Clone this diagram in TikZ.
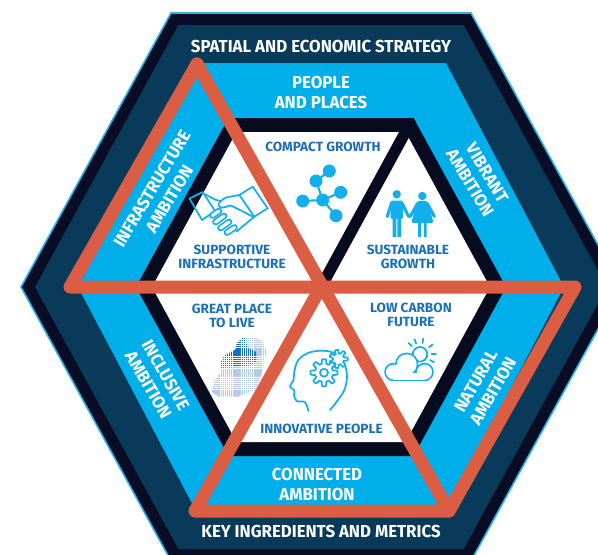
\documentclass[tikz,border=0pt]{standalone}
\usepackage{fontspec}
\newfontfamily\lab{Fira Sans}[FakeStretch=0.97]
\newfontfamily\labb{Fira Sans}[FakeStretch=1.02]
\definecolor{outl}{HTML}{2AB4E8}
\definecolor{navy}{HTML}{080C24}
\definecolor{teal}{HTML}{0A3A5A}
\definecolor{lblue}{HTML}{00AEEA}
\definecolor{blk}{HTML}{060B1F}
\definecolor{tblue}{HTML}{1C70B8}
\definecolor{icb}{HTML}{14AEEA}
\definecolor{orng}{HTML}{DB5E44}
\definecolor{mapdark}{HTML}{1A6FBE}
\definecolor{maplight}{HTML}{B3CAE8}
\tikzset{
  wlab/.style={text=white, font=\lab\bfseries\fontsize{13}{15}\selectfont, align=center, inner sep=0pt},
  blab/.style={text=tblue, font=\labb\bfseries\fontsize{10}{10.5}\selectfont, align=center, inner sep=0pt},
  iconline/.style={draw=icb, line width=1.3pt, line cap=round, line join=round},
  finger/.style={iconline, double=white, double distance=2.4pt},
  orline/.style={draw=orng, line width=9.75pt, line join=round, line cap=round},
}
\begin{document}
\begin{tikzpicture}[x=0.75pt,y=-0.75pt]
\useasboundingbox (0,0) rectangle (598,554);
\begin{scope}
\clip (0,0) rectangle (598,554);
% hexagon layers
\filldraw[fill=navy, draw=outl, line width=1.2pt] (21,287)--(171,13)--(471,13)--(621,287)--(471,561)--(171,561)--cycle;
\fill[teal] (35,287)--(178.4,25)--(463.6,25)--(607,287)--(463.6,549)--(178.4,549)--cycle;
\fill[lblue] (78,287)--(196,63)--(446,63)--(564,287)--(446,511)--(196,511)--cycle;
\fill[blk] (136,287)--(228.5,118)--(413.5,118)--(506,287)--(413.5,456)--(228.5,456)--cycle;
\fill[white] (152,287)--(236.5,132)--(405.5,132)--(490,287)--(405.5,442)--(236.5,442)--cycle;
\begin{scope}
\clip (136,287)--(228.5,118)--(413.5,118)--(506,287)--(413.5,456)--(228.5,456)--cycle;
\draw[blk, line width=8.5pt] (321,287) -- (422.4,101);
\end{scope}
\end{scope}

% network icon
\coordinate (n1) at (329.3,171);
\coordinate (n2) at (316,181);
\coordinate (n3) at (302.7,201);
\coordinate (n4) at (322.7,200);
\coordinate (n5) at (340.7,192.3);
\coordinate (n6) at (336,215.7);
\draw[icb, line width=1.6pt] (n1)--(n2)--(n4)--(n3) (n4)--(n5) (n4)--(n6);
\foreach \n in {n1,n2,n3,n4,n5,n6} \fill[icb] (\n) circle[radius=6.5];

% people icon
\fill[icb] (396.7,194.3) circle[radius=4.2];
\fill[icb, rounded corners=1.5] (390.5,200.5) rectangle (403,219);
\fill[icb] (392.5,217) rectangle (396.3,237) (397.3,217) rectangle (401,237);
\draw[icb, line width=2.3pt, line cap=round] (391.5,203)--(387.3,216.5) (402,203)--(408.6,216.5);
\fill[icb] (422.3,196) circle[radius=4.2];
\fill[icb, rounded corners=1.5] (417,200.8)--(427.6,200.8)--(433.5,223)--(411.3,223)--cycle;
\fill[icb] (418.2,222) rectangle (421,237) (423.8,222) rectangle (426.6,237);
\draw[icb, line width=2.3pt, line cap=round] (417.5,203.5)--(410.2,216.5) (427.2,203.5)--(434.4,216.5);

% handshake icon
\draw[iconline] (189.5,198.5)--(202.7,192)--(215,211)--(202,220)--cycle;
\draw[iconline] (239.3,195)--(252.7,186.7)--(267.7,208.3)--(254.3,216.7)--cycle;
\draw[iconline] (203.5,193.5) -- (216,200) -- (221,201) .. controls (224,198) and (227,197) .. (231,196.5) -- (239.3,195);
\draw[iconline] (221,201) .. controls (217,204) and (218,208) .. (223,207.5) -- (231,205.5) -- (253.5,217);
\draw[iconline] (254.3,216.7) -- (244.3,225) -- (236.5,231.5);
\draw[finger] (212.5,215.5) -- (219,211);
\draw[finger] (215.5,222) -- (224,216);
\draw[finger] (220.5,228) -- (229,222);
\draw[finger] (227,232.5) -- (234.5,227.5);

% Ireland dotted map
\begin{scope}
\clip (241.7,338.3)--(251.7,336.7)--(263.3,340)--(266.7,350)--(265,360)--(260,380)--(255,390)--(238.3,396.7)--(218.3,396.7)--(211.7,391.7)--(215,380)--(220,373.3)--(220,363.3)--(225,355)--(235,350)--(236.7,343.3)--cycle;
\foreach \i in {0,...,27} \foreach \j in {0,...,30}
  \fill[maplight] ({210+2.1*\i},{335.5+2.1*\j}) rectangle ++(1.45,1.45);
\clip (236,337)--(246,336)--(247,347)--(256,352)--(256,362)--(248,366)--(235,367)--(219,368)--(218,360)--(225,353)--(236,349)--cycle;
\foreach \i in {0,...,27} \foreach \j in {0,...,30}
  \fill[mapdark] ({210+2.1*\i},{335.5+2.1*\j}) rectangle ++(1.45,1.45);
\end{scope}

% head with gears
\draw[iconline] plot[smooth, tension=0.6] coordinates {(330,410) (336.7,401.7) (345,388.3) (346.7,371.7) (340,356.7) (326.7,351) (310,352.3) (298.3,360) (294.3,371.7) (293.5,380) (290,386.7) (294.3,390) (294,395) (296.7,401) (305,402.3) (308.3,411)};
\draw[iconline, fill=white] plot[domain=0:360, samples=141, variable=\t] ({338.5+(7.4+1.8*max(-1,min(1,2.5*cos(7*\t))))*cos(\t)}, {359+(7.4+1.8*max(-1,min(1,2.5*cos(7*\t))))*sin(\t)}) -- cycle;
\draw[iconline, fill=white] plot[domain=0:360, samples=161, variable=\t] ({324+(11.3+2.2*max(-1,min(1,2.5*cos(8*\t))))*cos(\t)}, {372.7+(11.3+2.2*max(-1,min(1,2.5*cos(8*\t))))*sin(\t)}) -- cycle;
\draw[iconline] (324,372.7) circle[radius=4];

% sun and cloud
\draw[iconline] (420,354.3) circle[radius=7.3];
\foreach \a in {135,110,78,38,0,-30}
  \draw[iconline] ({420+11.5*cos(\a)},{354.3-11.5*sin(\a)}) -- ({420+16*cos(\a)},{354.3-16*sin(\a)});
\draw[icb, line width=2.6pt] (393.5,372) circle[radius=7.5];
\draw[icb, line width=2.6pt] (406.7,364.3) circle[radius=10];
\draw[icb, line width=2.6pt] (424.5,372) circle[radius=7.5];
\draw[icb, line width=2.6pt] (393.5,372.5) rectangle (424.5,379.5);
\fill[white] (393.5,372) circle[radius=7.5];
\fill[white] (406.7,364.3) circle[radius=10];
\fill[white] (424.5,372) circle[radius=7.5];
\fill[white] (393.5,372.5) rectangle (424.5,379.5);

% orange triangles
\coordinate (oA) at (197,64);
\coordinate (oL) at (70,287);
\coordinate (oC) at (321,287);
\coordinate (oR) at (575,287);
\coordinate (oBR) at (449,511);
\coordinate (oBL) at (195,511);
\draw[orline] (oA)--(oL)--(oR)--(oBR)--(oBL)--(oC);
\draw[orline] (oA)--(oBR);

% labels
\node[wlab] (t1) at (321,46) {SPATIAL AND ECONOMIC STRATEGY};
\node[wlab] (t2) at (321,92) {PEOPLE\\AND PLACES};
\node[wlab] (t3) at (317,484.5) {CONNECTED\\AMBITION};
\node[wlab] (t4) at (321,531) {KEY INGREDIENTS AND METRICS};
\node[wlab, rotate=59] (t5) at (160.7,193.7) {INFRASTRUCTURE\\AMBITION};
\node[wlab, rotate=-59] (t6) at (478.5,178) {VIBRANT\\AMBITION};
\node[wlab, rotate=60] (t7) at (484.5,386) {NATURAL\\AMBITION};
\node[wlab, rotate=-60] (t8) at (157,380) {INCLUSIVE\\AMBITION};
\node[blab] (b1) at (323,147) {COMPACT GROWTH};
\node[blab] (b2) at (232,256.5) {SUPPORTIVE\\INFRASTRUCTURE};
\node[blab] (b3) at (408,257) {SUSTAINABLE\\GROWTH};
\node[blab] (b4) at (232,315.5) {GREAT PLACE\\TO LIVE};
\node[blab] (b5) at (411,315) {LOW CARBON\\FUTURE};
\node[blab] (b6) at (321.5,429) {INNOVATIVE PEOPLE};
\end{tikzpicture}
\end{document}
